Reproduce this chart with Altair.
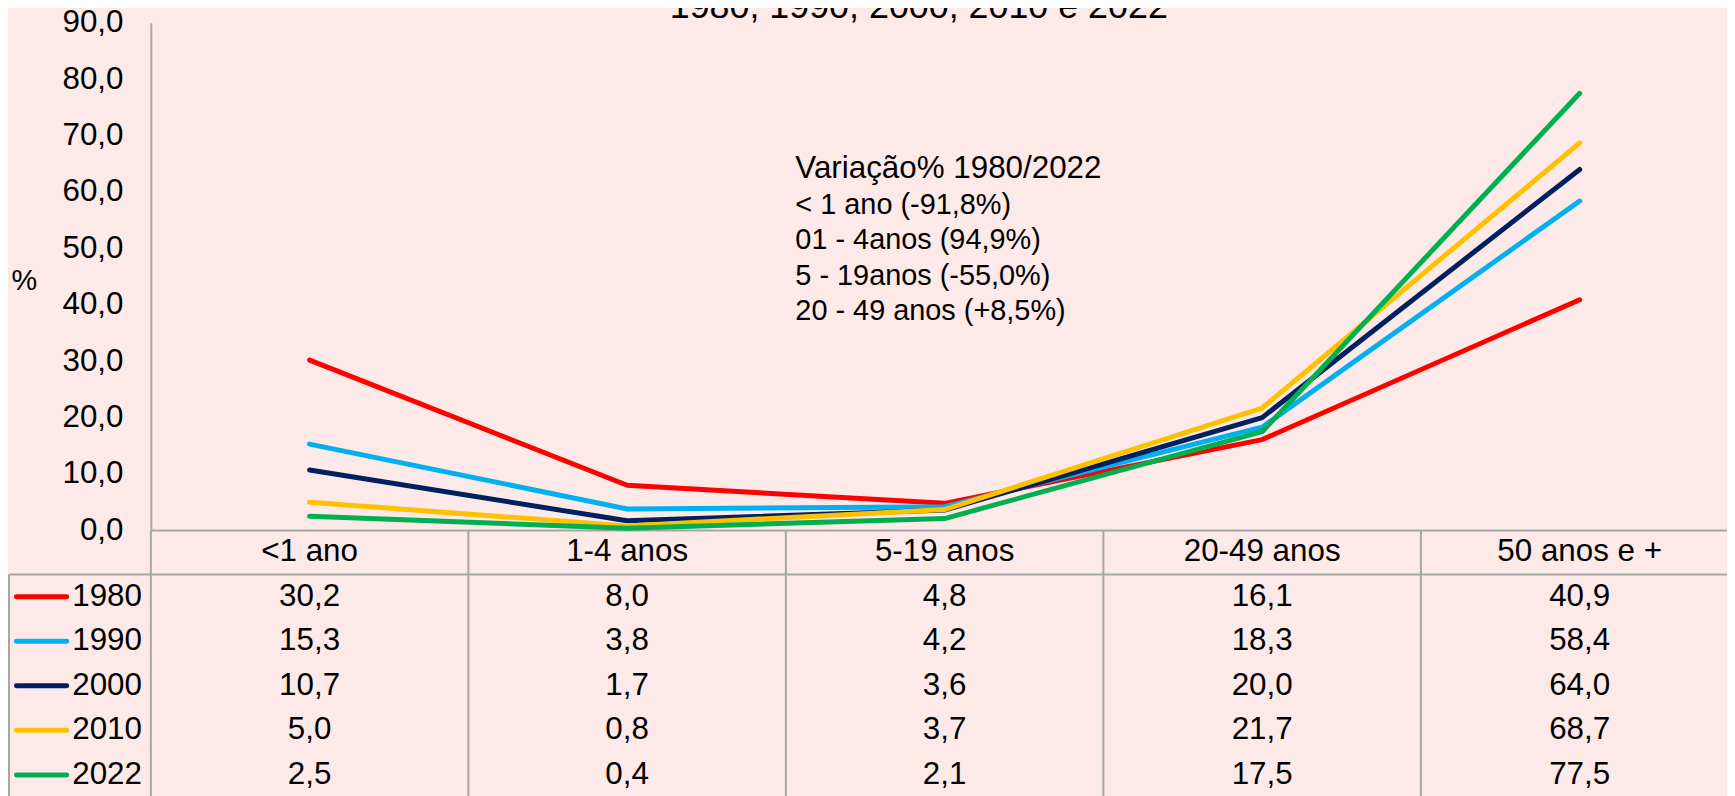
import altair as alt
import pandas as pd

categorias = ["<1 ano", "1-4 anos", "5-19 anos", "20-49 anos", "50 anos e +"]
anos = ["1980", "1990", "2000", "2010", "2022"]
v1980 = [30.2, 8.0, 4.8, 16.1, 40.9]
v1990 = [15.3, 3.8, 4.2, 18.3, 58.4]
v2000 = [10.7, 1.7, 3.6, 20.0, 64.0]
v2010 = [5.0, 0.8, 3.7, 21.7, 68.7]
v2022 = [2.5, 0.4, 2.1, 17.5, 77.5]
cores = ["#FF0000", "#00B0F0", "#002060", "#FFC000", "#00B050"]
y_ticks = [0, 10, 20, 30, 40, 50, 60, 70, 80, 90]
titulo = "1980, 1990, 2000, 2010 e 2022"
nota_titulo = "Variação% 1980/2022"
nota_linhas = ["< 1 ano (-91,8%)", "01 - 4anos (94,9%)", "5 - 19anos (-55,0%)", "20 - 49 anos (+8,5%)"]

FONT = "Liberation Sans"
GRAY = "#A6A6A6"
BG = "#FDEAE8"

series = dict(zip(anos, [v1980, v1990, v2000, v2010, v2022]))
rows = []
for ano, vals in series.items():
    for cat, v in zip(categorias, vals):
        rows.append({"Ano": ano, "Row": ano, "Categoria": cat, "Valor": v,
                     "Rotulo": f"{v:.1f}".replace(".", ",")})
df = pd.DataFrame(rows)
hdr = pd.DataFrame({"Row": ["hdr"] * len(categorias), "Categoria": categorias, "Rotulo": categorias})
tab = pd.concat([hdr, df[["Row", "Categoria", "Rotulo"]]], ignore_index=True)
leg = pd.DataFrame({"Row": anos, "Ano": anos})
cols = pd.DataFrame({"Categoria": categorias})
one = pd.DataFrame({"k": [0]})

xs = alt.Scale(type="band", domain=categorias, paddingInner=0, paddingOuter=0)
ys_line = alt.Scale(domain=[0, 90], nice=False, zero=True)
ys_tab = alt.Scale(type="band", domain=["hdr"] + anos, range=[509.5, 778], paddingInner=0, paddingOuter=0)
cs = alt.Scale(domain=anos, range=cores)

y_axis = alt.Axis(values=y_ticks, labelExpr="replace(format(datum.value, '.1f'), '.', ',')",
                  ticks=False, tickSize=0, grid=False, domainColor=GRAY, domainWidth=2,
                  labelFontSize=31.5, labelFont=FONT, labelColor="black", labelPadding=28,
                  title="%", titleAngle=0, titleFontSize=29, titleFontWeight="normal", titleFont=FONT,
                  titleX=-127.5, titleY=259, titleAlign="center", titleBaseline="middle",
                  titleColor="black")

lines = alt.Chart(df).mark_line(strokeWidth=5, strokeCap="round", strokeJoin="round").encode(
    x=alt.X("Categoria:N", scale=xs, sort=categorias, axis=None, bandPosition=0.5),
    y=alt.Y("Valor:Q", scale=ys_line, axis=y_axis),
    color=alt.Color("Ano:N", scale=cs, legend=None),
)

table_text = alt.Chart(tab).mark_text(fontSize=31.5, font=FONT, baseline="middle", align="center", color="black").encode(
    x=alt.X("Categoria:N", scale=xs, sort=categorias, axis=None, bandPosition=0.5),
    y=alt.Y("Row:N", scale=ys_tab, axis=None, bandPosition=0.5),
    text="Rotulo:N",
)

leg_rule = alt.Chart(leg).mark_rule(strokeWidth=5, strokeCap="round").encode(
    x=alt.value(-135), x2=alt.value(-84.5),
    y=alt.Y("Row:N", scale=ys_tab, axis=None, bandPosition=0.5),
    color=alt.Color("Ano:N", scale=cs, legend=None),
)
leg_text = alt.Chart(leg).mark_text(fontSize=31.5, font=FONT, baseline="middle", align="left", color="black").encode(
    x=alt.value(-79),
    y=alt.Y("Row:N", scale=ys_tab, axis=None, bandPosition=0.5),
    text="Row:N",
)

col_rules = alt.Chart(cols).mark_rule(color=GRAY, strokeWidth=2).encode(
    x=alt.X("Categoria:N", scale=xs, sort=categorias, axis=None, bandPosition=0),
    y=alt.value(510), y2=alt.value(800),
)
xaxis_line = alt.Chart(one).mark_rule(color=GRAY, strokeWidth=2).encode(
    x=alt.value(0), x2=alt.value(1600), y=alt.value(510))
hdr_line = alt.Chart(one).mark_rule(color=GRAY, strokeWidth=2).encode(
    x=alt.value(-142.5), x2=alt.value(1600), y=alt.value(554.25))
left_border = alt.Chart(one).mark_rule(color=GRAY, strokeWidth=2).encode(
    x=alt.value(-142.5), y=alt.value(554.25), y2=alt.value(800))

title_mark = alt.Chart(one).mark_text(fontSize=36, font=FONT, baseline="alphabetic", align="center", color="black").encode(
    x=alt.value(771.5), y=alt.value(-5), text=alt.value(titulo))
note_head = alt.Chart(one).mark_text(fontSize=31.5, font=FONT, baseline="middle", align="left", color="black").encode(
    x=alt.value(647.5), y=alt.value(147), text=alt.value(nota_titulo))
note_body = alt.Chart(one).mark_text(fontSize=29, font=FONT, baseline="middle", align="left", color="black",
                                     lineHeight=35.7).encode(
    x=alt.value(647.5), y=alt.value(183), text=alt.value(nota_linhas))

chart = alt.layer(
    col_rules, xaxis_line, hdr_line, left_border,
    lines, table_text, leg_rule, leg_text,
    title_mark, note_head, note_body,
).resolve_scale(y="independent").properties(
    width=1595, height=510,
    padding={"left": 143.5, "top": 13, "right": -11.5, "bottom": 265},
    autosize="none",
    background=BG,
).configure(font=FONT).configure_view(stroke=None)

chart.save("out.html", embed_options={"renderer": "svg", "actions": False})
